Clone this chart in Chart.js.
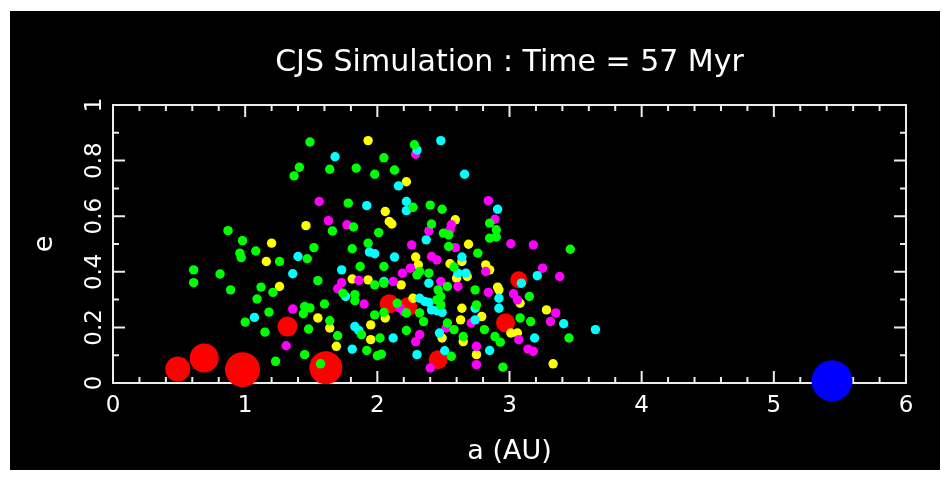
<!DOCTYPE html>
<html>
<head>
<meta charset="utf-8">
<script src="https://cdn.jsdelivr.net/npm/chart.js@4.4.0/dist/chart.umd.min.js"></script>
<style>
  html, body { margin: 0; padding: 0; background: #fff; }
  #wrap { position: absolute; left: 10px; top: 11px; width: 930px; height: 459px; background: #000; }
</style>
</head>
<body>
<div id="wrap"><canvas id="simChart" width="930" height="459"></canvas></div>
<script>
// semi-major axis a (AU), eccentricity e
const green = [[1.49,0.867],[2.05,0.81],[1.41,0.776],[1.37,0.745],[1.64,0.769],[1.84,0.773],[1.98,0.751],[1.78,0.647],
  [1.82,0.561],[1.66,0.547],[0.87,0.548],[2.01,0.541],[0.98,0.512],[1.93,0.503],[1.52,0.487],[1.81,0.483],[0.96,0.467],
  [0.97,0.451],[1.08,0.475],[1.47,0.447],[1.26,0.437],[1.87,0.419],[2.05,0.419],[0.61,0.407],[0.81,0.392],[1.55,0.368],
  [0.61,0.361],[1.98,0.353],[1.12,0.345],[1.21,0.326],[0.89,0.335],[1.09,0.302],[1.83,0.296],[1.60,0.284],[1.45,0.275],
  [1.49,0.27],[1.44,0.249],[1.18,0.255],[1.98,0.245],[2.05,0.254],[1.00,0.219],[1.64,0.224],[1.48,0.194],[1.15,0.183],
  [1.70,0.17],[1.88,0.174],[2.02,0.162],[1.92,0.117],[2.00,0.098],[2.03,0.104],[1.45,0.102],[1.23,0.078],[1.57,0.069],
  [2.28,0.857],[2.13,0.766],[2.40,0.64],[2.49,0.625],[2.27,0.632],[2.85,0.575],[2.90,0.551],[2.90,0.525],[2.85,0.521],
  [3.46,0.481],[2.41,0.572],[2.50,0.539],[2.54,0.533],[2.54,0.491],[2.76,0.467],[2.58,0.417],[2.39,0.395],[2.30,0.389],
  [2.32,0.401],[2.05,0.359],[2.53,0.347],[2.46,0.335],[2.48,0.311],[3.15,0.311],[2.74,0.335],[2.75,0.281],[2.15,0.287],
  [2.22,0.252],[2.45,0.299],[2.48,0.281],[2.32,0.252],[2.35,0.221],[2.53,0.216],[2.58,0.192],[2.81,0.192],[2.89,0.167],
  [3.08,0.234],[3.16,0.221],[3.45,0.162],[2.65,0.167],[2.56,0.096],[2.95,0.057],[2.22,0.189],[1.83,0.318],[1.74,0.323],
  [2.93,0.147]];
const cyan = [[1.68,0.814],[1.92,0.638],[1.94,0.471],[1.98,0.465],[1.40,0.455],[1.73,0.407],[1.36,0.393],[2.05,0.365],
  [1.76,0.311],[1.07,0.236],[1.83,0.203],[1.86,0.189],[1.81,0.122],[2.30,0.838],[2.48,0.872],[2.66,0.751],[2.16,0.709],
  [2.91,0.625],[2.22,0.653],[2.22,0.62],[2.37,0.515],[2.13,0.453],[2.64,0.453],[2.61,0.395],[2.67,0.395],[3.21,0.386],
  [3.09,0.359],[2.39,0.359],[2.92,0.305],[2.92,0.269],[2.74,0.269],[2.32,0.305],[2.36,0.293],[2.39,0.29],[2.41,0.263],
  [2.45,0.26],[2.49,0.254],[2.74,0.227],[3.41,0.213],[3.19,0.162],[3.65,0.192],[2.85,0.117],[2.47,0.18],[2.51,0.116],
  [2.30,0.102],[2.12,0.162]];
const magenta = [[1.56,0.653],[1.63,0.584],[1.77,0.569],[1.86,0.369],[1.73,0.361],[1.70,0.339],[1.90,0.284],[1.36,0.266],
  [1.31,0.134],[2.29,0.823],[2.84,0.656],[2.89,0.589],[3.01,0.501],[3.18,0.497],[2.56,0.569],[2.55,0.551],[2.39,0.547],
  [2.26,0.497],[2.59,0.487],[2.41,0.455],[2.45,0.443],[2.82,0.401],[2.25,0.413],[2.19,0.395],[2.12,0.365],[3.25,0.413],
  [3.38,0.383],[2.48,0.365],[2.61,0.347],[2.84,0.326],[3.03,0.321],[3.06,0.299],[2.17,0.27],[2.20,0.257],[2.71,0.216],
  [3.31,0.221],[3.35,0.252],[3.07,0.156],[3.14,0.122],[3.18,0.114],[2.75,0.132],[2.75,0.066],[2.52,0.198],[2.29,0.149],
  [2.32,0.174],[2.40,0.054]];
const yellow = [[1.93,0.872],[2.06,0.617],[1.46,0.566],[1.20,0.503],[1.16,0.437],[1.81,0.374],[1.93,0.371],[1.26,0.347],
  [1.55,0.234],[2.06,0.234],[1.95,0.209],[1.64,0.198],[1.95,0.156],[1.69,0.132],[2.22,0.724],[2.09,0.581],[2.11,0.572],
  [2.59,0.587],[2.69,0.499],[2.29,0.453],[2.31,0.425],[2.55,0.429],[2.64,0.437],[2.82,0.425],[2.85,0.407],[2.68,0.383],
  [2.60,0.377],[2.18,0.353],[2.91,0.345],[2.92,0.335],[3.08,0.287],[2.27,0.305],[2.63,0.227],[2.64,0.269],[2.79,0.239],
  [3.01,0.18],[3.06,0.18],[3.28,0.263],[2.49,0.162],[2.65,0.149],[2.75,0.102],[3.33,0.069]];
const embryos = [[0.49,0.05],[0.69,0.09],[0.98,0.048],[1.61,0.055],[1.32,0.203],[2.09,0.285],[2.23,0.274],[2.46,0.084],
  [2.97,0.217],[3.07,0.371]];
const jupiter = [[5.44,0.008]];

const xTicks = [0, 1, 2, 3, 4, 5, 6];
const xTickLabels = ['0', '1', '2', '3', '4', '5', '6'];
const yTicks = [0, 0.2, 0.4, 0.6, 0.8, 1];
const yTickLabels = ['0', '0.2', '0.4', '0.6', '0.8', '1'];

// marker sizes (px)
const embryoRadius = [12.5, 14.5, 17.5, 16.5, 10, 9.5, 9.5, 9.5, 9.5, 8.5];
const FONT = 'DejaVu Sans';

const toPts = arr => arr.map(([a, e]) => ({x: a, y: e}));
function dots(label, arr, color, r) {
    return { label, data: toPts(arr), backgroundColor: color, pointBorderWidth: 0, pointRadius: r, clip: false };
}

// PGPLOT style box: frame with inward ticks on all four sides
const frameTicks = {
    id: 'frameTicks',
    beforeDatasetsDraw(chart) {
        const {ctx, chartArea: ca, scales: {x, y}} = chart;
        ctx.save();
        ctx.strokeStyle = '#ececec';
        ctx.lineWidth = 2;
        ctx.strokeRect(ca.left, ca.top, ca.right - ca.left, ca.bottom - ca.top);
        ctx.beginPath();
        for (let i = 0; i <= 30; i++) {
            const px = x.getPixelForValue(i * 0.2);
            const len = i % 5 === 0 ? 12 : 6;
            ctx.moveTo(px, ca.bottom); ctx.lineTo(px, ca.bottom - len);
            ctx.moveTo(px, ca.top); ctx.lineTo(px, ca.top + len);
        }
        for (let i = 0; i <= 10; i++) {
            const py = y.getPixelForValue(i * 0.1);
            const len = i % 2 === 0 ? 12 : 6;
            ctx.moveTo(ca.left, py); ctx.lineTo(ca.left + len, py);
            ctx.moveTo(ca.right, py); ctx.lineTo(ca.right - len, py);
        }
        ctx.stroke();
        ctx.restore();
    }
};

const ctx = document.getElementById('simChart').getContext('2d');
new Chart(ctx, {
    type: 'scatter',
    data: {
        datasets: [
            dots('green', green, '#00ff00', 4.7),
            dots('cyan', cyan, '#00ffff', 4.7),
            dots('magenta', magenta, '#ff00ff', 4.7),
            dots('yellow', yellow, '#ffff00', 4.7),
            dots('embryos', embryos, '#ff0000', embryoRadius),
            dots('jupiter', jupiter, '#0000ff', 20.5)
        ]
    },
    options: {
        responsive: false,
        animation: false,
        events: [],
        layout: { padding: { left: 0, right: 34, top: 0, bottom: 0 } },
        plugins: { legend: { display: false }, tooltip: { enabled: false } },
        scales: {
            x: {
                type: 'linear', position: 'bottom', min: 0, max: 6,
                afterBuildTicks: s => { s.ticks = xTicks.map(v => ({value: v})); },
                afterFit: s => { s.height = 87; },
                grid: { display: false, drawTicks: false }, border: { display: false },
                ticks: { color: '#fff', font: { family: FONT, size: 23 }, padding: 9, maxRotation: 0, autoSkip: false,
                         callback: (v, i) => xTickLabels[i] },
                title: { display: true, text: 'a (AU)', color: '#fff', font: { family: FONT, size: 27 }, padding: { bottom: 2 } }
            },
            top: {
                type: 'linear', axis: 'x', position: 'top', min: 0, max: 6,
                afterFit: s => { s.height = 94; },
                grid: { display: false, drawTicks: false }, border: { display: false },
                ticks: { display: false },
                title: { display: true, text: 'CJS Simulation : Time = 57 Myr', color: '#fff', font: { family: FONT, size: 30 }, padding: { top: 34 } }
            },
            y: {
                type: 'linear', position: 'left', min: 0, max: 1,
                afterBuildTicks: s => { s.ticks = yTicks.map(v => ({value: v})); },
                afterFit: s => { s.width = 103; },
                grid: { display: false, drawTicks: false }, border: { display: false },
                ticks: { color: '#fff', font: { family: FONT, size: 23 }, padding: 0, minRotation: 90, maxRotation: 90,
                         crossAlign: 'center', autoSkip: false, callback: (v, i) => yTickLabels[i] },
                title: { display: true, text: 'e', color: '#fff', font: { family: FONT, size: 27 }, padding: { top: 19 } }
            }
        }
    },
    plugins: [frameTicks]
});
</script>
</body>
</html>
